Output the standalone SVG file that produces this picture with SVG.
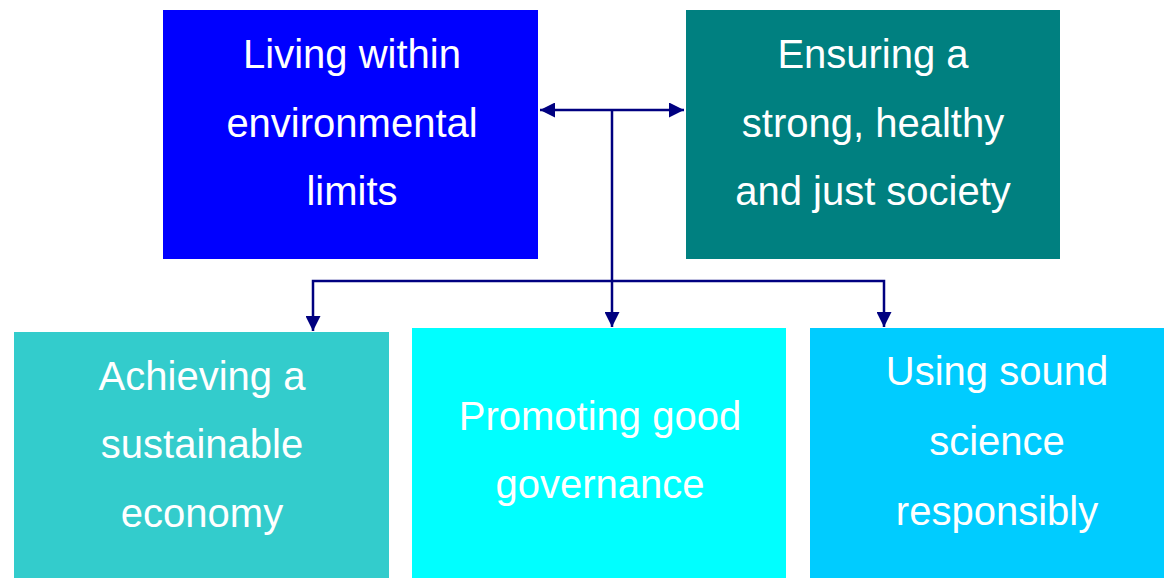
<svg xmlns="http://www.w3.org/2000/svg" width="1164" height="578" viewBox="0 0 1164 578">
<style>
.lbl{font-family:"Liberation Sans","DejaVu Sans",sans-serif;font-size:40px;fill:#ffffff;text-anchor:middle}
.con{stroke:#000080;stroke-width:2.5;fill:none}
</style>
<defs>
<marker id="ah" viewBox="0 0 10 10" refX="10" refY="5" markerWidth="6" markerHeight="6" markerUnits="strokeWidth" orient="auto-start-reverse">
<path d="M0,0 L10,5 L0,10 Z" fill="#000080"/>
</marker>
</defs>
<rect width="1164" height="578" fill="#ffffff"/>
<g id="node-living">
<rect x="163" y="10" width="375" height="249" fill="#0000ff"/>
<text class="lbl" x="352" y="68">Living within</text>
<text class="lbl" x="352" y="137">environmental</text>
<text class="lbl" x="352" y="205">limits</text>
</g>
<g id="node-society">
<rect x="686" y="10" width="374" height="249" fill="#008080"/>
<text class="lbl" x="873" y="68">Ensuring a</text>
<text class="lbl" x="873" y="137">strong, healthy</text>
<text class="lbl" x="873" y="205">and just society</text>
</g>
<g id="node-economy">
<rect x="14" y="332" width="375" height="246" fill="#33cccc"/>
<text class="lbl" x="202" y="390">Achieving a</text>
<text class="lbl" x="202" y="458">sustainable</text>
<text class="lbl" x="202" y="527">economy</text>
</g>
<g id="node-governance">
<rect x="412" y="328" width="374" height="250" fill="#00ffff"/>
<text class="lbl" x="600" y="430">Promoting good</text>
<text class="lbl" x="600" y="498">governance</text>
</g>
<g id="node-science">
<rect x="810" y="328" width="354" height="250" fill="#00ccff"/>
<text class="lbl" x="997" y="385">Using sound</text>
<text class="lbl" x="997" y="455">science</text>
<text class="lbl" x="997" y="525">responsibly</text>
</g>
<g id="connectors">
<line class="con" x1="540" y1="110" x2="684" y2="110" marker-start="url(#ah)" marker-end="url(#ah)"/>
<line class="con" x1="612" y1="110" x2="612" y2="327" marker-end="url(#ah)"/>
<polyline class="con" points="313,331 313,281 884,281 884,327" marker-start="url(#ah)" marker-end="url(#ah)"/>
</g>
</svg>
